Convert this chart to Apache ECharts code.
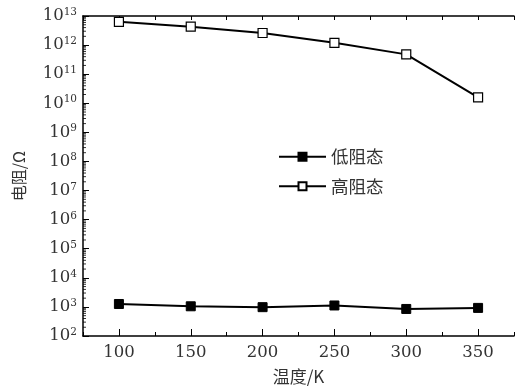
<!DOCTYPE html>
<html>
<head>
<meta charset="utf-8">
<script src="https://cdn.jsdelivr.net/npm/echarts@6/dist/echarts.min.js"></script>
<style>
html,body{margin:0;padding:0;background:#fff;}
#c{width:517px;height:390px;}
</style>
</head>
<body>
<div id="c"></div>
<script>
// ---- data ----
var temperatures = [100, 150, 200, 250, 300, 350];
var lowResistance = [1260, 1050, 980, 1120, 850, 925];
var highResistance = [6.3e12, 4.3e12, 2.6e12, 1.2e12, 4.8e11, 1.6e10];
var seriesNames = ['低阻态', '高阻态'];
var xTickCategories = ['75','100','125','150','175','200','225','250','275','300','325','350','375'];
var yDecades = [2,3,4,5,6,7,8,9,10,11,12];
var yMinorMultipliers = [2,3,4,5,6,7,8,9];
var xAxisName = '温度/K';
var yAxisName = '电阻/Ω';

var serif = '"DejaVu Serif", "Noto Sans CJK SC", serif';
var cjk = '"Noto Sans CJK SC", "DejaVu Serif", serif';
var txt = '#333';

var minorTicks = [];
yDecades.forEach(function (k) {
  yMinorMultipliers.forEach(function (m) {
    minorTicks.push([75, m * Math.pow(10, k)]);
  });
});

function pairs(ys) { return temperatures.map(function (t, i) { return [t, ys[i]]; }); }

var chart = echarts.init(document.getElementById('c'), null, {renderer: 'canvas'});
chart.setOption({
  animation: false,
  backgroundColor: '#fff',
  grid: {left: 83, top: 16, bottom: 52, right: -7, containLabel: false},
  legend: {
    orient: 'vertical',
    left: 278, top: 148, padding: 0,
    itemWidth: 47, itemHeight: 10, itemGap: 12,
    textStyle: {fontFamily: cjk, fontSize: 17.5, color: txt},
    data: seriesNames
  },
  xAxis: [
    {
      type: 'value', position: 'bottom', min: 75, max: 375, interval: 25,
      name: xAxisName, nameLocation: 'middle', nameGap: 32,
      nameTextStyle: {fontFamily: cjk, fontSize: 17, color: txt},
      axisLine: {show: true, lineStyle: {color: '#000', width: 1.5}},
      axisTick: {show: true, inside: true, length: 4, lineStyle: {color: '#000', width: 1}},
      axisLabel: {
        fontFamily: serif, fontSize: 16.5, color: txt, margin: 8,
        formatter: function (v) { return (v % 50 === 0) ? String(v) : ''; }
      },
      splitLine: {show: false}
    },
    {
      type: 'category', position: 'bottom', data: xTickCategories, boundaryGap: false,
      axisLine: {show: false},
      axisTick: {show: true, inside: true, length: 7, lineStyle: {color: '#000', width: 1},
        interval: function (i) { return i % 2 === 1; }},
      axisLabel: {show: false},
      splitLine: {show: false}
    },
    {
      type: 'value', position: 'top', min: 75, max: 375, interval: 25,
      axisLine: {show: true, lineStyle: {color: '#000', width: 1.5}},
      axisTick: {show: true, inside: true, length: 4, lineStyle: {color: '#000', width: 1}},
      axisLabel: {show: false},
      splitLine: {show: false}
    }
  ],
  yAxis: {
    type: 'log', logBase: 10, min: 100, max: 1e13, interval: 1,
    name: yAxisName, nameLocation: 'middle', nameGap: 56, nameRotate: 90,
    nameTextStyle: {fontFamily: cjk, fontSize: 16, color: txt},
    axisLine: {show: true, lineStyle: {color: '#000', width: 1.5}},
    axisTick: {show: true, inside: true, length: 6, lineStyle: {color: '#000', width: 1}},
    axisLabel: {
      margin: 6,
      formatter: function (v) {
        var e = Math.round(Math.log(v) / Math.LN10);
        return '{b|10}{s|' + e + '}';
      },
      rich: {
        b: {fontFamily: serif, fontSize: 16.5, color: txt, lineHeight: 18},
        s: {fontFamily: serif, fontSize: 10.5, color: txt, verticalAlign: 'top', lineHeight: 10}
      }
    },
    splitLine: {show: false}
  },
  series: [
    {
      name: seriesNames[0], type: 'line', xAxisIndex: 0, data: pairs(lowResistance),
      symbol: 'rect', symbolSize: 9,
      lineStyle: {color: '#000', width: 2},
      itemStyle: {color: '#000', borderColor: '#000', borderWidth: 1}
    },
    {
      name: seriesNames[1], type: 'line', xAxisIndex: 0, data: pairs(highResistance),
      symbol: 'rect', symbolSize: 9,
      lineStyle: {color: '#000', width: 2},
      itemStyle: {color: '#fff', borderColor: '#000', borderWidth: 1.2}
    },
    {
      name: 'minorTicks', type: 'scatter', xAxisIndex: 0, data: minorTicks,
      symbol: 'rect', symbolSize: [3, 1], symbolOffset: [1.5, 0],
      itemStyle: {color: '#000'}, silent: true, clip: false, z: 1
    }
  ]
});
</script>
</body>
</html>
